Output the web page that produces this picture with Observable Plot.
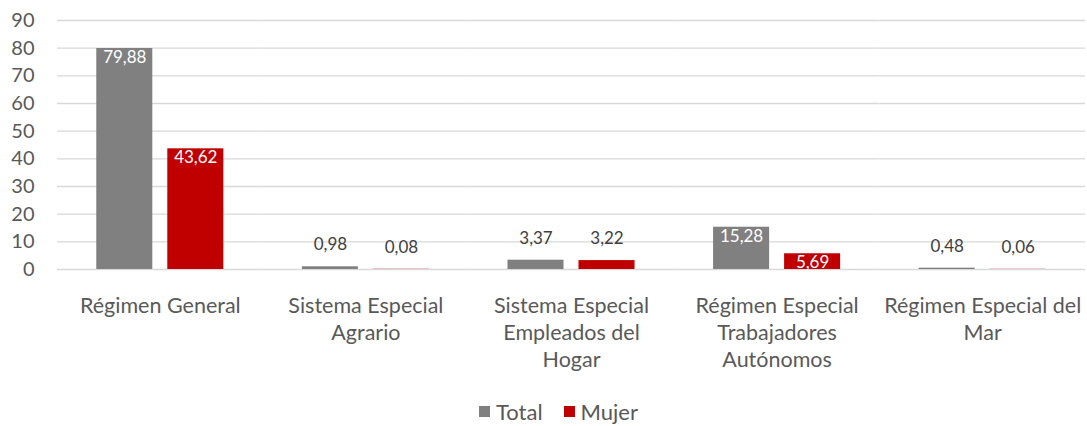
<!DOCTYPE html>
<html>
<head>
<meta charset="utf-8">
<script src="https://cdn.jsdelivr.net/npm/d3@7"></script>
<script src="https://cdn.jsdelivr.net/npm/@observablehq/plot@0.6"></script>
<style>
  html, body { margin: 0; padding: 0; background: #fff; }
  body { width: 1087px; height: 426px; overflow: hidden; font-family: Lato, "Open Sans", sans-serif; }
  #chart svg { display: block; }
  #legend { display: flex; justify-content: center; align-items: center; gap: 21px; height: 72px; font-size: 22px; color: #595959; padding-left: 30px; padding-top: 1px; box-sizing: border-box; }
  #legend .item { display: flex; align-items: center; gap: 6px; }
  #legend .sw { width: 11px; height: 11px; display: inline-block; }
</style>
</head>
<body>
<div id="chart"></div>
<div id="legend"></div>
<script>
const categories = [
  "Régimen General",
  "Sistema Especial Agrario",
  "Sistema Especial Empleados del Hogar",
  "Régimen Especial Trabajadores Autónomos",
  "Régimen Especial del Mar"
];
const categoryLabels = [
  "Régimen General",
  "Sistema Especial\nAgrario",
  "Sistema Especial\nEmpleados del\nHogar",
  "Régimen Especial\nTrabajadores\nAutónomos",
  "Régimen Especial del\nMar"
];
const series = ["Total", "Mujer"];
const totalValues = [79.88, 0.98, 3.37, 15.28, 0.48];
const mujerValues = [43.62, 0.08, 3.22, 5.69, 0.06];
const yTicks = [0, 10, 20, 30, 40, 50, 60, 70, 80, 90];
const colors = ["#808080", "#C00000"];

const labelOf = new Map(categories.map((c, i) => [c, categoryLabels[i]]));
const data = categories.flatMap((c, i) => [
  {category: c, series: "Total", value: totalValues[i]},
  {category: c, series: "Mujer", value: mujerValues[i]}
]);
const fmt = v => d3.format(".2f")(v).replace(".", ",");
const inside = d => d.value >= 5;

const chart = Plot.plot({
  width: 1087,
  height: 375,
  marginLeft: 57,
  marginRight: 2,
  marginTop: 20,
  marginBottom: 106,
  style: {fontFamily: "Lato, 'Open Sans', sans-serif", color: "#595959", background: "#fff"},
  fx: {domain: categories, padding: 0, round: false, label: null, axis: null},
  x: {domain: series, paddingInner: 0.211, paddingOuter: 0.553, round: false, axis: null},
  y: {domain: [0, 90], axis: null},
  color: {domain: series, range: colors},
  marks: [
    Plot.gridY(yTicks, {stroke: "#d9d9d9", strokeOpacity: 1, strokeWidth: 1.3}),
    Plot.barY(data, {fx: "category", x: "series", y: "value", fill: "series"}),
    Plot.text(data.filter(inside), {fx: "category", x: "series", y: "value", text: d => fmt(d.value), fill: "#fff", lineAnchor: "middle", dy: 9, fontSize: 17}),
    Plot.text(data.filter(d => !inside(d)), {fx: "category", x: "series", y: "value", text: d => fmt(d.value), fill: "#404040", lineAnchor: "middle", dy: -22, fontSize: 17}),
    Plot.axisY({ticks: yTicks, tickSize: 0, tickPadding: 23, label: null, fontSize: 20, fill: "#595959"}),
    Plot.axisFx({anchor: "bottom", tickSize: 0, tickPadding: 24, label: null, fontSize: 21.5, lineHeight: 1.26, fill: "#595959", lineAnchor: "top", tickFormat: d => labelOf.get(d)})
  ]
});
document.getElementById("chart").appendChild(chart);

const legend = document.getElementById("legend");
series.forEach((s, i) => {
  const item = document.createElement("span");
  item.className = "item";
  const sw = document.createElement("span");
  sw.className = "sw";
  sw.style.background = colors[i];
  const t = document.createElement("span");
  t.textContent = s;
  item.appendChild(sw);
  item.appendChild(t);
  legend.appendChild(item);
});
</script>
</body>
</html>
